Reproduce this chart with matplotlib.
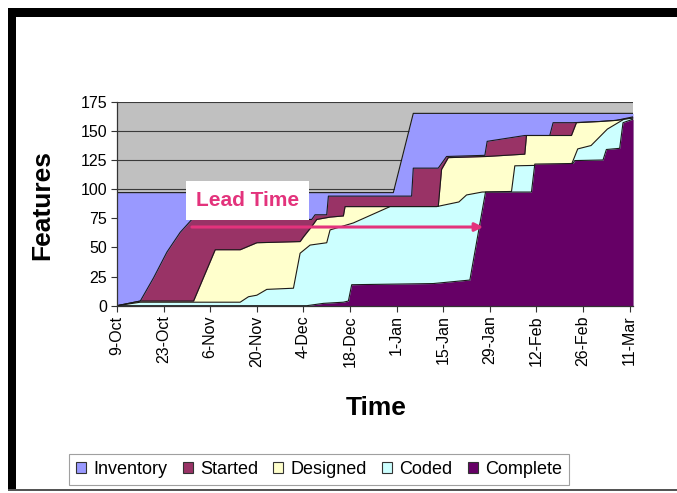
import matplotlib
matplotlib.use("Agg")
import matplotlib.pyplot as plt
from matplotlib.patches import Patch, Rectangle

plt.rcParams['font.family'] = ['Liberation Sans', 'DejaVu Sans']

# ---- data (day offsets from 9-Oct, cumulative feature counts) ----
tick_days = [0, 14, 28, 42, 56, 70, 84, 98, 112, 126, 140, 154]
tick_labels = ['9-Oct', '23-Oct', '6-Nov', '20-Nov', '4-Dec', '18-Dec',
               '1-Jan', '15-Jan', '29-Jan', '12-Feb', '26-Feb', '11-Mar']

inventory_days = [0, 83, 89, 155]
inventory_vals = [97, 97, 165, 165]

started_days = [0, 7, 11, 15, 19, 22.5, 58.5, 59.5, 63, 63.5, 88.5, 89, 96.5, 97,
                99, 110.5, 111.2, 122.5, 130, 131, 137, 145, 150, 155]
started_vals = [0, 4, 24, 46, 63, 74, 74, 78, 78, 94, 94, 118, 118, 120,
                128, 129, 141, 146, 146, 157, 157, 158, 159, 162]

designed_days = [0, 7, 23, 29.5, 37, 39.5, 42, 55, 56, 58.5, 60, 64, 68, 68.5,
                 96.5, 97.5, 99.5, 111, 122.5, 123, 136.5, 138, 145, 150, 155]
designed_vals = [0, 4, 4, 48, 48, 51, 54, 55, 59, 68, 74, 76, 77, 85,
                 85, 117, 127, 128, 130, 146, 146, 157, 158, 159, 161]

coded_days = [0, 7, 37, 39.5, 42, 45, 53, 55, 58, 63, 64, 71, 82, 96, 102.7,
              105, 109.7, 118.5, 119.5, 136.5, 137, 138.4, 142.4, 147.3, 152.3, 155]
coded_vals = [0, 3, 3, 7.7, 9, 14, 15, 45, 52, 54, 65, 71, 85, 85, 89,
              95, 97.5, 98, 120, 121, 124.5, 134.5, 137.4, 151.5, 160, 161]

complete_days = [0, 57, 62, 68, 69.5, 70.5, 95, 106, 110.7, 124.5, 125.5, 137,
                 137.5, 146, 147, 151, 152, 155]
complete_vals = [0, 0, 2, 3, 4, 18, 19, 22, 97.5, 97.5, 121.5, 122,
                 124.5, 125, 134, 135, 157, 160]

series_names = ['Inventory', 'Started', 'Designed', 'Coded', 'Complete']
series_colors = ['#9999FF', '#993366', '#FFFFCC', '#CCFFFF', '#660066']

lead_time_start = 22.5
lead_time_end = 110
lead_time_level = 67.5

# ---- figure ----
W, H = 677, 493
fig = plt.figure(figsize=(W / 100, H / 100), dpi=100)
fig.patch.set_facecolor('white')

# slide border (black top and left bands, thin bottom line)
fig.add_artist(Rectangle((8 / W, 1 - 17 / H), 1, 9 / H, transform=fig.transFigure,
                         facecolor='black', edgecolor='none'))
fig.add_artist(Rectangle((8 / W, 1 - 491 / H), 8 / W, (491 - 8) / H, transform=fig.transFigure,
                         facecolor='black', edgecolor='none'))
fig.add_artist(Rectangle((8 / W, 1 - 491 / H), 1, 2 / H, transform=fig.transFigure,
                         facecolor='#555555', edgecolor='none'))

ax = fig.add_axes([117 / W, (H - 305.7) / H, (633 - 117) / W, (305.7 - 101.7) / H])
ax.set_facecolor('#C0C0C0')
ax.set_xlim(0, 155)
ax.set_ylim(0, 175)

ax.set_yticks(range(0, 176, 25))
ax.yaxis.grid(True, color='#3a3a3a', lw=0.8)
ax.set_axisbelow(True)

layers = [(inventory_days, inventory_vals), (started_days, started_vals),
          (designed_days, designed_vals), (coded_days, coded_vals),
          (complete_days, complete_vals)]
for i, ((d, v), col) in enumerate(zip(layers, series_colors)):
    ax.fill_between(d, v, 0, color=col, lw=0, zorder=2 + i * 0.1)
    ax.plot(d, v, color='#1a1a1a', lw=0.8, zorder=2.05 + i * 0.1)

# lead time annotation
pink = '#E3337C'
ax.annotate('', xy=(lead_time_end, lead_time_level), xytext=(lead_time_start, lead_time_level),
            arrowprops=dict(arrowstyle='-|>', color=pink, lw=2.2, mutation_scale=12,
                            shrinkA=0, shrinkB=0), zorder=5)
ax.text(39.2, 90, 'Lead Time', color=pink, fontsize=15, fontweight='bold',
        ha='center', va='center', zorder=6,
        bbox=dict(facecolor='white', edgecolor='none', pad=7))

ax.set_xticks(tick_days)
ax.set_xticklabels(tick_labels, rotation=90, fontsize=11.5)
ax.tick_params(axis='both', direction='out', length=4, color='#333333', labelsize=11.5, pad=3)

for s in ['top', 'right']:
    ax.spines[s].set_visible(False)
for s in ['left', 'bottom']:
    ax.spines[s].set_color('#333333')
    ax.spines[s].set_linewidth(0.9)
    ax.spines[s].set_zorder(7)

fig.text(42 / W, 1 - 205 / H, 'Features', rotation=90, fontsize=19, fontweight='bold',
         ha='center', va='center')
fig.text(376 / W, 1 - 408 / H, 'Time', fontsize=19, fontweight='bold',
         ha='center', va='center')

handles = [Patch(facecolor=c, edgecolor='#333333', lw=0.8) for c in series_colors]
leg = fig.legend(handles, series_names, loc='center', ncol=5,
                 bbox_to_anchor=(319 / W, 1 - 469.5 / H), fontsize=13,
                 handlelength=0.55, handleheight=0.55, handletextpad=0.4,
                 columnspacing=0.85, borderpad=0.4, frameon=True, fancybox=False)
leg.get_frame().set_edgecolor('#888888')
leg.get_frame().set_linewidth(0.8)

fig.savefig('out.png', dpi=100)
